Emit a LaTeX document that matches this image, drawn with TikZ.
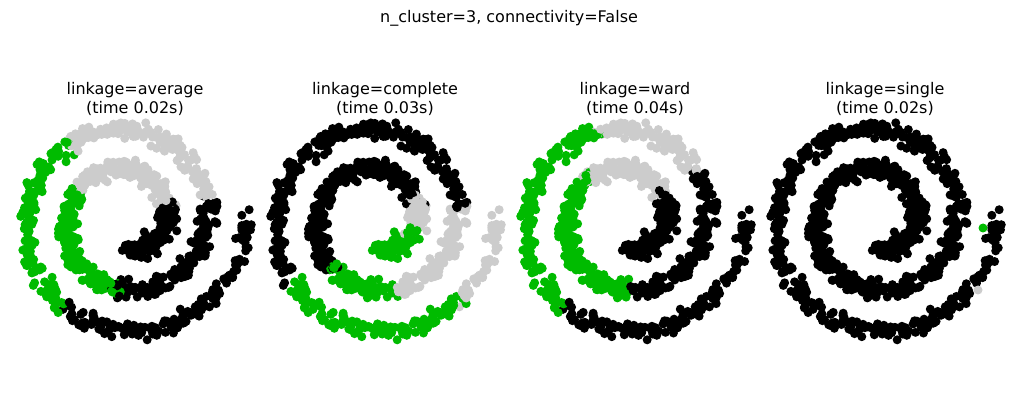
\documentclass[tikz,border=0pt]{standalone}
\usepackage{fontspec}
\setmainfont{DejaVu Sans}
\definecolor{dotgreen}{RGB}{0,187,0}
\definecolor{dotgray}{RGB}{204,204,204}
\tikzset{
  dotblack/.style={fill=black},
  dotgray/.style={fill=dotgray},
  dotgreen/.style={fill=dotgreen},
  titletext/.style={font=\fontsize{16}{19}\selectfont, align=center},
}
% one panel: #1 x of the roll centre, #2 class as a function of \tpos (t/pi)
\newcommand\rollpanel[2]{%
  \pgfmathsetseed{7}
  \foreach \i in {1,...,1100}{
    \pgfmathsetmacro\tpar{1.5*pi*(1+3*rnd)}
    \pgfmathsetmacro\tpos{\tpar/pi}
    \pgfmathsetmacro\px{#1+6.4*(\tpar*cos(deg(\tpar))+0.7*(rand+rand+rand))}
    \pgfmathsetmacro\py{-220+6.4*(\tpar*sin(deg(\tpar))+0.7*(rand+rand+rand))}
    \pgfmathtruncatemacro\kls{#2}
    \ifcase\kls \def\dotcol{dotblack}\or\def\dotcol{dotgray}\or\def\dotcol{dotgreen}\fi
    \path[\dotcol] (\px,\py) circle (4.5);
  }}
\begin{document}
\begin{tikzpicture}[x=1pt,y=1pt]
  \useasboundingbox (0,0) rectangle (1019,-419);

  % titles
  \node[titletext] (main) at (509,-18) {n\_cluster=3, connectivity=False};
  \node[titletext] (t1) at (135,-99) {linkage=average\\(time 0.02s)};
  \node[titletext] (t2) at (385,-99) {linkage=complete\\(time 0.03s)};
  \node[titletext] (t3) at (635,-99) {linkage=ward\\(time 0.04s)};
  \node[titletext] (t4) at (885,-99) {linkage=single\\(time 0.02s)};

  % average
  \rollpanel{127}{ifthenelse(\tpos<2.1,0,ifthenelse(\tpos<2.8,1,ifthenelse(\tpos<3.45,2,ifthenelse(\tpos<4.1,0,ifthenelse(\tpos<4.7,1,ifthenelse(\tpos<5.3,2,0))))))}
  % complete
  \rollpanel{377}{ifthenelse(\tpos<1.9,2,ifthenelse(\tpos<2.15,1,ifthenelse(\tpos<3.25,0,ifthenelse(\tpos<3.6,2,ifthenelse(\tpos<4.05,1,ifthenelse(\tpos<5.2,0,ifthenelse(\tpos<5.76,2,1)))))))}
  % ward
  \rollpanel{627}{ifthenelse(\tpos<2.2,0,ifthenelse(\tpos<2.75,1,ifthenelse(\tpos<3.5,2,ifthenelse(\tpos<4.2,0,ifthenelse(\tpos<4.6,1,ifthenelse(\tpos<5.3,2,0))))))}
  % single
  \rollpanel{877}{0}
  \path[dotgray] (978,-290) circle (4.5);
  \path[dotgreen] (983,-228) circle (4.5);
\end{tikzpicture}
\end{document}
